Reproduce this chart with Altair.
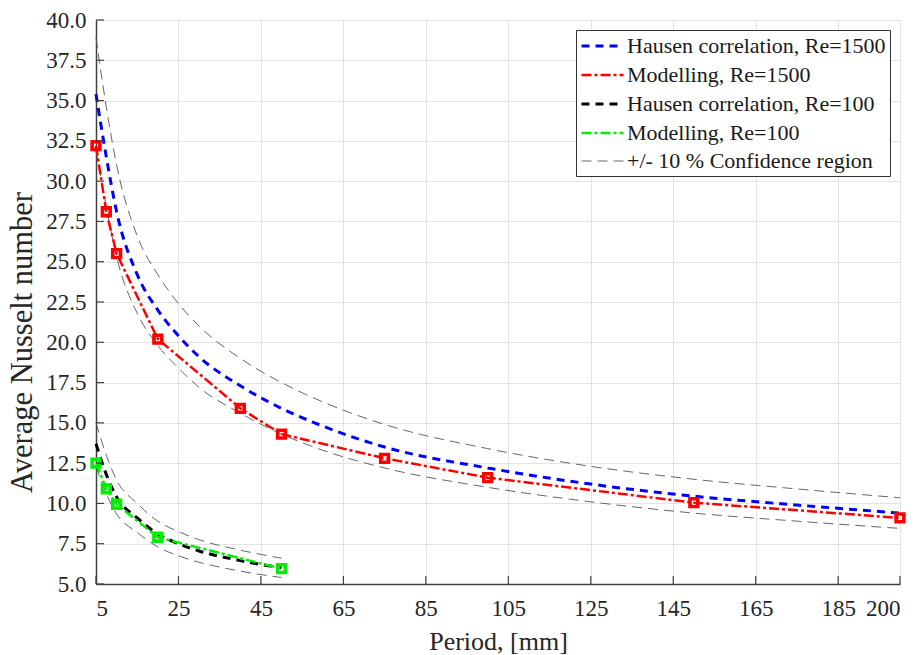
import altair as alt
import pandas as pd

# ---- data ----
X_H1500 = [5, 7.5, 10, 15, 20, 25, 30, 40, 50, 60, 75, 100, 125, 150, 175, 200]
Y_H1500 = [35.4, 31.5, 28.1, 24.2, 22.0, 20.4, 19.1, 17.3, 15.9, 14.8, 13.5, 12.2, 11.2, 10.45, 9.9, 9.4]
UP_1500 = [38.9, 34.6, 31.0, 26.6, 24.2, 22.4, 21.0, 19.0, 17.5, 16.3, 14.9, 13.4, 12.3, 11.5, 10.9, 10.35]
LO_1500 = [31.9, 28.4, 25.3, 21.8, 19.8, 18.4, 17.2, 15.6, 14.3, 13.3, 12.2, 11.0, 10.1, 9.4, 8.9, 8.45]

X_H100 = [5, 7.5, 10, 15, 20, 25, 30, 40, 50]
Y_H100 = [13.7, 11.8, 10.4, 9.1, 8.1, 7.5, 7.05, 6.45, 6.0]
UP_100 = [15.0, 13.0, 11.45, 10.0, 8.9, 8.25, 7.75, 7.1, 6.6]
LO_100 = [12.3, 10.6, 9.35, 8.2, 7.3, 6.75, 6.35, 5.8, 5.4]

X_M1500 = [5, 7.5, 10, 20, 40, 50, 75, 100, 150, 200]
Y_M1500 = [32.2, 28.1, 25.5, 20.2, 15.9, 14.3, 12.8, 11.6, 10.05, 9.1]
X_M100 = [5, 7.5, 10, 20, 50]
Y_M100 = [12.5, 10.9, 9.95, 7.9, 5.95]

X_TICKS = [5, 25, 45, 65, 85, 105, 125, 145, 165, 185, 200]
Y_TICKS = [5, 7.5, 10, 12.5, 15, 17.5, 20, 22.5, 25, 27.5, 30, 32.5, 35, 37.5, 40]

SERIES = ["Hausen correlation, Re=1500", "Modelling, Re=1500",
          "Hausen correlation, Re=100", "Modelling, Re=100",
          "+/- 10 % Confidence region"]
COLORS = ["#0000ff", "#ff0000", "#000000", "#00ee00", "#555555"]
DASHES = [[8, 6], [10, 3, 3, 3], [8, 6], [10, 3, 3, 3], [10, 6]]
WIDTHS = [3, 2.5, 3, 2.5, 0.9]

def frame(xs, ys, series, curve):
    return pd.DataFrame({"x": xs, "y": ys, "series": series, "curve": curve})

conf = pd.concat([
    frame(X_H1500, UP_1500, SERIES[4], "u1500"),
    frame(X_H1500, LO_1500, SERIES[4], "l1500"),
    frame(X_H100, UP_100, SERIES[4], "u100"),
    frame(X_H100, LO_100, SERIES[4], "l100"),
])
hausen = pd.concat([
    frame(X_H1500, Y_H1500, SERIES[0], "h1500"),
    frame(X_H100, Y_H100, SERIES[2], "h100"),
])
model = pd.concat([
    frame(X_M1500, Y_M1500, SERIES[1], "m1500"),
    frame(X_M100, Y_M100, SERIES[3], "m100"),
])

FONT = "Liberation Serif"
xscale = alt.Scale(domain=[5, 200], nice=False, zero=False)
yscale = alt.Scale(domain=[5, 40], nice=False, zero=False)
xaxis = alt.Axis(values=X_TICKS, title="Period, [mm]", titlePadding=8, labelPadding=13)
yaxis = alt.Axis(values=Y_TICKS, format=".1f", title="Average Nusselt number",
                 titlePadding=8, labelPadding=10, titleY=322)

xenc = alt.X("x:Q", scale=xscale, axis=xaxis)
yenc = alt.Y("y:Q", scale=yscale, axis=yaxis)
legend = alt.Legend(title=None, orient="top-right", offset=10,
                    symbolType="M-1,0L3,0", symbolSize=441,
                    labelFont=FONT, labelFontSize=22, labelColor="#1a1a1a", labelLimit=500,
                    labelExpr="datum.label + '\u00a0\u00a0\u00a0\u00a0\u00a0'",
                    strokeColor="#333333", fillColor="white", padding=4,
                    labelOffset=23, rowPadding=6)

color = alt.Color("series:N", scale=alt.Scale(domain=SERIES, range=COLORS), legend=legend)
dash = alt.StrokeDash("series:N", scale=alt.Scale(domain=SERIES, range=DASHES), legend=legend)
width = alt.StrokeWidth("series:N", scale=alt.Scale(type="ordinal", domain=SERIES, range=WIDTHS),
                        legend=legend)

conf_layer = alt.Chart(conf).mark_line(interpolate="monotone").encode(
    x=xenc, y=yenc, color=color, strokeDash=dash, strokeWidth=width, detail="curve:N")
haus_layer = alt.Chart(hausen).mark_line(interpolate="monotone").encode(
    x=xenc, y=yenc, color=color, strokeDash=dash, strokeWidth=width, detail="curve:N")
model_layer = alt.Chart(model).mark_line().encode(
    x=xenc, y=yenc, color=color, strokeDash=dash, strokeWidth=width, detail="curve:N")

pts1500 = alt.Chart(pd.DataFrame({"x": X_M1500, "y": Y_M1500})).mark_point(
    shape="square", filled=False, color="#ff0000", strokeWidth=3.6, size=60, opacity=1
).encode(x=xenc, y=yenc)
pts100 = alt.Chart(pd.DataFrame({"x": X_M100, "y": Y_M100})).mark_point(
    shape="square", filled=False, color="#00ee00", strokeWidth=3.6, size=60, opacity=1
).encode(x=xenc, y=yenc)

xt = alt.Chart(pd.DataFrame({"x": X_TICKS})).mark_rule(color="#404040", strokeWidth=1.2).encode(
    x=xenc, y=alt.value(564), y2=alt.value(556))
yt = alt.Chart(pd.DataFrame({"y": Y_TICKS})).mark_rule(color="#404040", strokeWidth=1.2).encode(
    y=yenc, x=alt.value(0), x2=alt.value(8))

chart = alt.layer(conf_layer, haus_layer, model_layer, pts1500, pts100, xt, yt).properties(
    width=804, height=564,
    autosize=alt.AutoSizeParams(type="none"),
    padding={"left": 96, "top": 20, "right": 17, "bottom": 71},
).configure(font=FONT).configure_view(strokeWidth=0).configure_axis(
    labelFont=FONT, labelFontSize=23, labelColor="#262626",
    titleFont=FONT, titleFontWeight="normal", titleColor="#262626",
    gridColor="#e3e3e3", gridWidth=1, domainColor="#404040", domainWidth=1.5,
    ticks=False,
).configure_axisX(titleFontSize=26).configure_axisY(titleFontSize=30.5).configure_legend(
    labelFont=FONT)

chart.save("out.html", embed_options={"renderer": "svg", "actions": False})
